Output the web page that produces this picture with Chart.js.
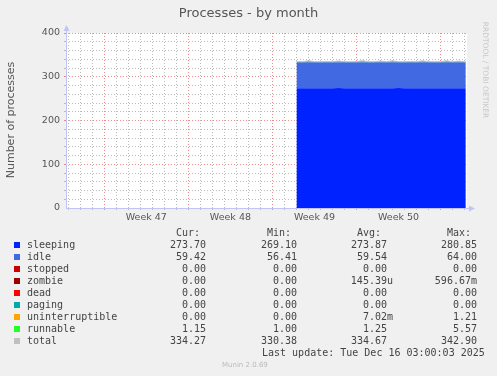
<!DOCTYPE html>
<html>
<head>
<meta charset="utf-8">
<script src="https://cdn.jsdelivr.net/npm/chart.js@4.4.1/dist/chart.umd.min.js"></script>
<style>
  body { margin: 0; background: #f0f0f0; }
  #wrap { position: relative; width: 497px; height: 376px; overflow: hidden; font-family: 'DejaVu Sans', sans-serif; }
  #chartBox { position: absolute; left: 0; top: 0; width: 497px; height: 376px; }
  .t { position: absolute; white-space: pre; }
  .mono { font-family: 'DejaVu Sans Mono', monospace; font-size: 10px; color: #444; line-height: 12px; }
  .sq { position: absolute; width: 6px; height: 6px; }
  .rot { position: absolute; text-align: center; white-space: pre; }
</style>
</head>
<body>
<div id="wrap">
  <div id="chartBox"><canvas id="myChart"></canvas></div>
  <div class="t" style="left:0;width:497px;top:5px;text-align:center;font-size:13px;color:#555;">Processes - by month</div>
  <div class="rot" style="left:-59px;top:113px;width:140px;height:14px;line-height:14px;font-size:11px;color:#555;transform:rotate(-90deg);">Number of processes</div>
  <div class="rot" style="left:435px;top:65px;width:100px;height:10px;line-height:10px;font-size:7.5px;color:#c8c8c8;transform:rotate(90deg);">RRDTOOL / TOBI OETIKER</div>
  <div id="legend"></div>
  <div class="t mono" style="left:262px;top:347px;">Last update: Tue Dec 16 03:00:03 2025</div>
  <div class="t" style="left:222px;top:361px;font-size:7px;color:#bbb;">Munin 2.0.69</div>
</div>
<script>
// x = days since Monday of week 47
const weekLabels = ['Week 47', 'Week 48', 'Week 49', 'Week 50'];
const weekCenters = [3.5, 10.5, 17.5, 24.5];

const xs = [16, 16.5, 17, 17.5, 18, 18.5, 19, 19.5, 20, 20.5, 21, 21.5, 22, 22.5, 23,
  23.5, 24, 24.5, 25, 25.5, 26, 26.5, 27, 27.5, 28, 28.5, 29, 29.5, 30, 30.1];

const sleeping = [273.9, 273.8, 273.9, 274.0, 273.8, 273.7, 273.9, 274.1, 273.8, 273.8,
  273.9, 273.9, 273.7, 273.8, 274.0, 273.8, 273.9, 274.1, 273.8, 273.7,
  273.9, 274.0, 273.8, 273.8, 273.9, 273.9, 274.0, 273.8, 273.8, 273.7];
const idle = [59.5, 59.6, 59.5, 59.4, 59.6, 59.7, 59.5, 59.3, 59.6, 59.6,
  59.5, 59.5, 59.7, 59.6, 59.4, 59.6, 59.5, 59.3, 59.6, 59.7,
  59.5, 59.4, 59.6, 59.6, 59.5, 59.5, 59.4, 59.6, 59.6, 59.42];
const stopped = [0, 0, 0, 0, 0, 0, 0, 0, 0, 0, 0, 0, 0, 0, 0, 0, 0, 0, 0, 0, 0, 0, 0, 0, 0, 0, 0, 0, 0, 0];
const zombie = [0, 0, 0, 0, 0, 0, 0, 0, 0, 0, 0, 0, 0, 0, 0, 0, 0, 0, 0, 0, 0, 0, 0, 0, 0, 0, 0, 0, 0, 0];
const dead = [0, 0, 0, 0, 0, 0, 0, 0, 0, 0, 0, 0, 0, 0, 0, 0, 0, 0, 0, 0, 0, 0, 0, 0, 0, 0, 0, 0, 0, 0];
const paging = [0, 0, 0, 0, 0, 0, 0, 0, 0, 0, 0, 0, 0, 0, 0, 0, 0, 0, 0, 0, 0, 0, 0, 0, 0, 0, 0, 0, 0, 0];
const uninterruptible = [0, 0, 0, 0, 0, 0, 0, 0, 0, 0, 0, 0, 0, 0, 0, 0, 0, 0, 0, 0, 0, 0, 0, 0, 0, 0, 0, 0, 0, 0];
const runnable = [1.2, 1.0, 3.1, 1.1, 1.0, 1.3, 1.0, 2.8, 1.1, 1.0, 1.2, 3.4, 1.0, 1.1, 2.5,
  1.0, 3.0, 1.1, 1.0, 1.3, 1.0, 2.9, 1.2, 1.0, 1.1, 3.2, 1.0, 2.4, 1.0, 1.15];
const total = [334.6, 334.4, 336.5, 334.5, 334.4, 334.7, 334.4, 336.2, 334.5, 334.4,
  334.6, 336.8, 334.4, 334.5, 335.9, 334.4, 336.4, 334.5, 334.4, 334.7,
  334.4, 336.3, 334.6, 334.4, 334.5, 336.6, 334.4, 335.8, 334.4, 334.27];

// legend table
const names = ['sleeping', 'idle', 'stopped', 'zombie', 'dead', 'paging', 'uninterruptible', 'runnable', 'total'];
const colors = ['#0022ff', '#4169e1', '#cc0000', '#990000', '#ff0000', '#00aaaa', '#ffa500', '#22ff22', '#c0c0c0'];
const curVals = ['273.70', '59.42', '0.00', '0.00', '0.00', '0.00', '0.00', '1.15', '334.27'];
const minVals = ['269.10', '56.41', '0.00', '0.00', '0.00', '0.00', '0.00', '1.00', '330.38'];
const avgVals = ['273.87', '59.54', '0.00', '145.39u', '0.00', '0.00', '7.02m', '1.25', '334.67'];
const maxVals = ['280.85', '64.00', '0.00', '596.67m', '0.00', '0.00', '1.21', '5.57', '342.90'];

const legend = document.getElementById('legend');
let html = '';
const rowTop = 239;
html += `<div class="t mono" style="left:176px;top:${rowTop - 12}px;">Cur:</div>`;
html += `<div class="t mono" style="left:267px;top:${rowTop - 12}px;">Min:</div>`;
html += `<div class="t mono" style="left:357px;top:${rowTop - 12}px;">Avg:</div>`;
html += `<div class="t mono" style="left:447px;top:${rowTop - 12}px;">Max:</div>`;
names.forEach((n, i) => {
  const top = rowTop + i * 12;
  const avgRight = /[a-z]$/.test(avgVals[i]) ? 104 : 110;
  html += `<div class="sq" style="left:14px;top:${top + 3}px;background:${colors[i]};"></div>`;
  html += `<div class="t mono" style="left:27px;top:${top}px;">${n}</div>`;
  html += `<div class="t mono" style="right:${497 - 206}px;top:${top}px;">${curVals[i]}</div>`;
  html += `<div class="t mono" style="right:${497 - 297}px;top:${top}px;">${minVals[i]}</div>`;
  html += `<div class="t mono" style="right:${avgRight}px;top:${top}px;">${avgVals[i]}</div>`;
  html += `<div class="t mono" style="right:${497 - 477}px;top:${top}px;">${maxVals[i]}</div>`;
});
legend.innerHTML = html;

const pts = (arr) => arr.map((v, i) => ({x: xs[i], y: v}));

const area = (label, arr, color, fill) => ({
  label: label,
  data: pts(arr),
  backgroundColor: color,
  borderColor: color,
  borderWidth: 0,
  pointRadius: 0,
  fill: fill,
  stack: 'procs',
});

const RED = 'rgba(235,120,120,0.85)';
const GRAY = 'rgba(180,180,180,0.9)';
const AXIS = '#c4c4f4';

// white plot background + axis arrows
const plotDeco = {
  id: 'plotDeco',
  beforeDraw(chart) {
    const {ctx, chartArea: a} = chart;
    ctx.save();
    ctx.fillStyle = '#ffffff';
    ctx.fillRect(a.left, a.top, a.right - a.left, a.bottom - a.top);
    ctx.restore();
  },
  afterDraw(chart) {
    const {ctx, chartArea: a} = chart;
    ctx.save();
    ctx.strokeStyle = AXIS;
    ctx.fillStyle = AXIS;
    ctx.lineWidth = 1;
    ctx.beginPath();
    ctx.moveTo(a.left + 0.5, a.bottom);
    ctx.lineTo(a.left + 0.5, a.top - 4);
    ctx.moveTo(a.left, a.bottom + 0.5);
    ctx.lineTo(a.right + 4, a.bottom + 0.5);
    ctx.stroke();
    ctx.beginPath();
    ctx.moveTo(a.left - 2.5, a.top - 2);
    ctx.lineTo(a.left + 3.5, a.top - 2);
    ctx.lineTo(a.left + 0.5, a.top - 8);
    ctx.closePath();
    ctx.fill();
    ctx.beginPath();
    ctx.moveTo(a.right + 2, a.bottom - 2.5);
    ctx.lineTo(a.right + 2, a.bottom + 3.5);
    ctx.lineTo(a.right + 8, a.bottom + 0.5);
    ctx.closePath();
    ctx.fill();
    ctx.restore();
  },
};

const ctx = document.getElementById('myChart');

new Chart(ctx, {
  type: 'line',
  data: {
    datasets: [
      area('sleeping', sleeping, '#0022ff', 'origin'),
      area('idle', idle, '#4169e1', '-1'),
      area('stopped', stopped, '#cc0000', '-1'),
      area('zombie', zombie, '#990000', '-1'),
      area('dead', dead, '#ff0000', '-1'),
      area('paging', paging, '#00aaaa', '-1'),
      area('uninterruptible', uninterruptible, '#ffa500', '-1'),
      area('runnable', runnable, '#22ff22', '-1'),
      {
        label: 'total',
        data: pts(total),
        borderColor: '#c0c0c0',
        borderWidth: 1,
        pointRadius: 0,
        fill: false,
        stack: 'total',
        order: -1,
      },
    ],
  },
  options: {
    responsive: true,
    maintainAspectRatio: false,
    animation: false,
    layout: {padding: {top: 33, right: 30, left: 0, bottom: 0}},
    plugins: {legend: {display: false}, tooltip: {enabled: false}},
    elements: {line: {tension: 0}},
    scales: {
      x: {
        type: 'linear',
        min: -3.19,
        max: 30.2,
        afterFit: (s) => { s.height = 168; },
        afterBuildTicks: (s) => {
          const t = [];
          for (let d = -3; d <= 30; d += 0.5) t.push({value: d});
          s.ticks = t;
        },
        border: {display: false, dash: [1, 2]},
        grid: {
          drawTicks: true,
          tickLength: 2,
          lineWidth: 1,
          color: (c) => {
            const v = c.tick ? c.tick.value : 0;
            if (v % 7 === 0) return RED;
            if (Number.isInteger(v)) return GRAY;
            return 'rgba(0,0,0,0)';
          },
        },
        ticks: {
          autoSkip: false,
          maxRotation: 0,
          padding: 2,
          color: '#555',
          font: {family: 'DejaVu Sans', size: 9.5},
          callback: (v) => {
            const i = weekCenters.indexOf(v);
            return i >= 0 ? weekLabels[i] : '';
          },
        },
      },
      y: {
        stacked: true,
        min: 0,
        max: 400,
        afterFit: (s) => { s.width = 66; },
        border: {display: false, dash: [1, 2]},
        grid: {
          tickLength: 2,
          color: (c) => {
            const v = c.tick ? c.tick.value : 0;
            if (v === 0) return 'rgba(0,0,0,0)';
            return v % 100 === 0 ? RED : GRAY;
          },
        },
        ticks: {
          stepSize: 20,
          autoSkip: false,
          padding: 4,
          color: '#555',
          font: {family: 'DejaVu Sans', size: 9.5},
          callback: (v) => (v % 100 === 0 ? v : ''),
        },
      },
    },
  },
  plugins: [plotDeco],
});
</script>
</body>
</html>
